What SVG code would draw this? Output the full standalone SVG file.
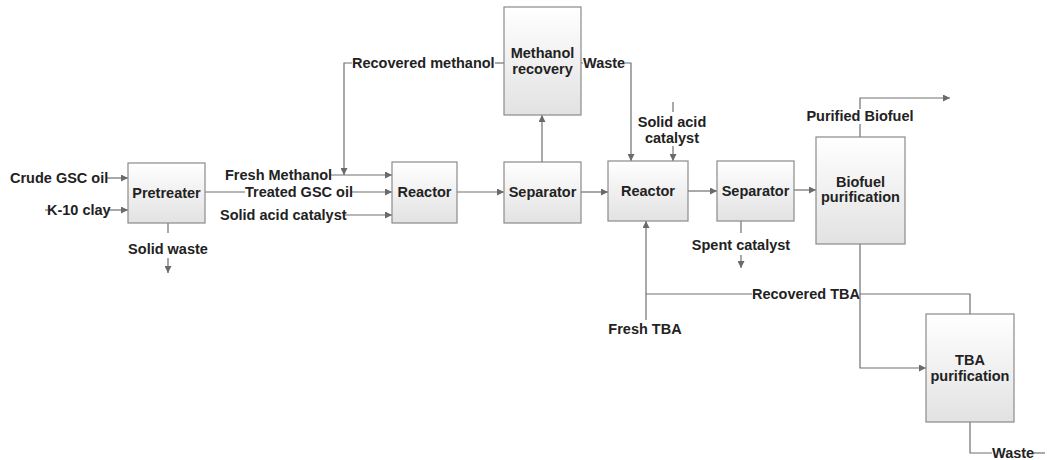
<svg xmlns="http://www.w3.org/2000/svg" width="1047" height="460" viewBox="0 0 1047 460">
<defs>
<linearGradient id="g" x1="0" y1="0" x2="0" y2="1">
<stop offset="0" stop-color="#ffffff"/>
<stop offset="1" stop-color="#e2e2e2"/>
</linearGradient>
<marker id="a" viewBox="0 0 10 10" refX="10" refY="5" markerWidth="9" markerHeight="7" markerUnits="userSpaceOnUse" orient="auto">
<path d="M0,0 L10,5 L0,10 z" fill="#6a6a6a"/>
</marker>
<style>
.box{fill:url(#g);stroke:#8a8a8a;stroke-width:1.2}
.t{font-family:"Liberation Sans",Arial,sans-serif;font-weight:bold;font-size:14.5px;fill:#222}
.c{text-anchor:middle}
.ln{fill:none;stroke:#707070;stroke-width:1.2}
.ar{marker-end:url(#a)}
</style>
</defs>
<rect width="1047" height="460" fill="#fff"/>
<g id="connectors">
<path class="ln ar" d="M107,178 H128"/>
<path class="ln" d="M45,210 H48"/>
<path class="ln ar" d="M108,210 H128"/>
<path class="ln" d="M168,223 V233"/>
<path class="ln ar" d="M168,258 V273"/>
<path class="ln" d="M205,192 H245"/>
<path class="ln ar" d="M351,192 H392"/>
<path class="ln ar" d="M331,175 H392"/>
<path class="ln ar" d="M344,215 H392"/>
<path class="ln" d="M504,63 H495"/>
<path class="ln ar" d="M352,63 H344 V175"/>
<path class="ln ar" d="M457,192 H504"/>
<path class="ln ar" d="M542,162 V115"/>
<path class="ln" d="M581,63 H583"/>
<path class="ln ar" d="M625,63 H631 V161"/>
<path class="ln ar" d="M581,192 H608"/>
<path class="ln" d="M673,102 V112"/>
<path class="ln ar" d="M673,146 V161"/>
<path class="ln ar" d="M688,191 H717"/>
<path class="ln" d="M741,221 V233"/>
<path class="ln ar" d="M741,255 V268"/>
<path class="ln ar" d="M794,190 H816"/>
<path class="ln" d="M860,137 V124"/>
<path class="ln ar" d="M860,109 V98 H950"/>
<path class="ln ar" d="M860,244 V368 H926"/>
<path class="ln" d="M970,314 V294 H860"/>
<path class="ln" d="M752,294 H646"/>
<path class="ln ar" d="M646,320 V221"/>
<path class="ln" d="M970,422 V453 H992"/>
<path class="ln" d="M1033,453 H1045"/>
</g>
<g id="pretreater">
<rect class="box" x="128" y="163" width="77" height="60"/>
<text class="t c" x="166.5" y="198">Pretreater</text>
</g>
<g id="reactor1">
<rect class="box" x="392" y="162" width="65" height="61"/>
<text class="t c" x="424.5" y="197">Reactor</text>
</g>
<g id="separator1">
<rect class="box" x="504" y="162" width="77" height="61"/>
<text class="t c" x="542.5" y="197">Separator</text>
</g>
<g id="methanol-recovery">
<rect class="box" x="504" y="7" width="77" height="108"/>
<text class="t c" x="542.5" y="58">Methanol</text>
<text class="t c" x="542.5" y="74">recovery</text>
</g>
<g id="reactor2">
<rect class="box" x="608" y="161" width="80" height="60"/>
<text class="t c" x="648" y="196">Reactor</text>
</g>
<g id="separator2">
<rect class="box" x="717" y="161" width="77" height="60"/>
<text class="t c" x="755.5" y="196">Separator</text>
</g>
<g id="biofuel-purification">
<rect class="box" x="816" y="137" width="89" height="107"/>
<text class="t c" x="860.5" y="187">Biofuel</text>
<text class="t c" x="860.5" y="202">purification</text>
</g>
<g id="tba-purification">
<rect class="box" x="926" y="314" width="88" height="108"/>
<text class="t c" x="970" y="365">TBA</text>
<text class="t c" x="970" y="381">purification</text>
</g>
<g id="labels">
<text class="t" x="10" y="183">Crude GSC oil</text>
<text class="t" x="47" y="215">K-10 clay</text>
<text class="t c" x="168" y="254">Solid waste</text>
<text class="t" x="225" y="180">Fresh Methanol</text>
<text class="t" x="245" y="197">Treated GSC oil</text>
<text class="t" x="220" y="220">Solid acid catalyst</text>
<text class="t" x="352" y="68">Recovered methanol</text>
<text class="t" x="583" y="68">Waste</text>
<text class="t c" x="672" y="127">Solid acid</text>
<text class="t c" x="672" y="143">catalyst</text>
<text class="t c" x="741" y="250">Spent catalyst</text>
<text class="t c" x="860" y="121">Purified Biofuel</text>
<text class="t" x="752" y="299">Recovered TBA</text>
<text class="t c" x="645" y="334">Fresh TBA</text>
<text class="t" x="992" y="458">Waste</text>
</g>
</svg>
